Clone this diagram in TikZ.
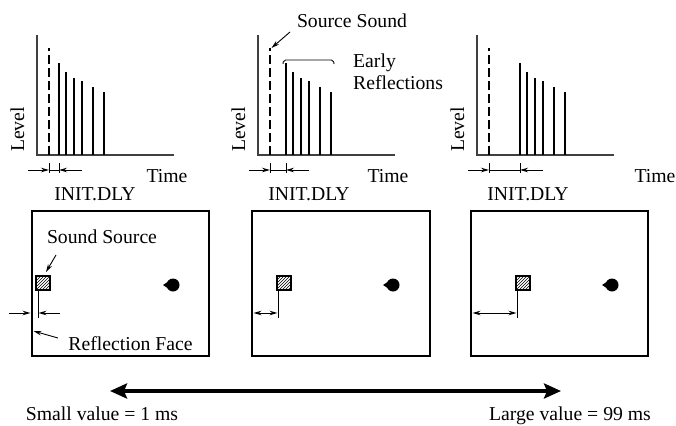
\documentclass[tikz,border=0pt]{standalone}
\usepackage{fontspec}
\setmainfont{Liberation Serif}
\usetikzlibrary{arrows.meta,patterns}
\tikzset{
  lbl/.style={font=\fontsize{19.7}{23}\selectfont, inner sep=0pt, anchor=base},
  axisline/.style={line width=1.1pt, draw=black!75},
  barline/.style={line width=1.7pt},
  dashbar/.style={line width=1.7pt, dash pattern=on 9pt off 4pt},
  dimline/.style={line width=0.9pt},
  dimarrow/.style={line width=0.9pt, -{Stealth[length=8pt,width=4.5pt]}},
  dimboth/.style={line width=0.9pt, {Stealth[length=8pt,width=4.5pt]}-{Stealth[length=8pt,width=4.5pt]}},
  callout/.style={line width=0.9pt, -{Stealth[length=8pt,width=4.5pt]}},
  room/.style={line width=2.3pt},
  srcbox/.style={line width=1.1pt, pattern=north east lines},
  bigarrow/.style={line width=4pt, {Stealth[length=17pt,width=15pt,inset=3pt]}-{Stealth[length=17pt,width=15pt,inset=3pt]}}
}
\begin{document}
\begin{tikzpicture}[x=1pt,y=-1pt]
\useasboundingbox (0,0) rectangle (676,425);

% ---------- level/time graphs ----------
\foreach \i/\ax/\off/\tx/\dx in {1/37/22/130/58, 2/258/28/130/51, 3/477/43/178/51}{
  \draw[axisline] (\ax,35) -- (\ax,155) -- (\ax+137,155);
  \draw[dashbar] (\ax+12,155) -- (\ax+12,48);
  \foreach \r/\t in {0/63, 7/72, 15/78, 23/81, 34/87, 45/92}{
    \draw[barline] (\ax+\off+\r,155) -- (\ax+\off+\r,\t);
  }
  \node[lbl, rotate=90] (level\i) at (\ax-13,129.5) {Level};
  \node[lbl] (time\i) at (\ax+\tx,182) {Time};
  \node[lbl] (init\i) at (\ax+\dx,200) {INIT.DLY};
  % dimension
  \coordinate (ta\i) at (\ax+12,170);
  \coordinate (tb\i) at (\ax+\off,170);
  \coordinate (la\i) at (\ax-9,170);
  \coordinate (lb\i) at (\ax+\off+23,170);
  \draw[dimline] (\ax+12,163) -- (\ax+12,173);
  \draw[dimline] (\ax+\off,163) -- (\ax+\off,173);
  \draw[dimline] (ta\i) -- (tb\i);
  \draw[dimarrow] (la\i) -- (ta\i);
  \draw[dimarrow] (lb\i) -- (tb\i);
}

% source sound callout
\node[lbl] (srcsound) at (352,28) {Source Sound};
\coordinate (dashtop) at (271.5,48);
\draw[callout] (290,32) -- (dashtop);
% early reflections bracket
\draw[line width=0.9pt, rounded corners=2pt] (283,64) -- (283.5,60) -- (333.5,60) -- (334,64);
\node[lbl, anchor=base west] (early) at (353,68) {Early};
\node[lbl, anchor=base west] (refl) at (353,90) {Reflections};

% ---------- rooms ----------
\draw[room] (32,211) rectangle (209,356);
\draw[room] (252,211) rectangle (430,356);
\draw[room] (471,211) rectangle (648,356);

% sound sources
\draw[srcbox] (36,276) rectangle (50,290);
\draw[srcbox] (277,276) rectangle (291,290);
\draw[srcbox] (516,276) rectangle (530,290);

\draw[dimline] (38,290) -- (38,318);
\draw[dimline] (278,290) -- (278,318);
\draw[dimline] (517,290) -- (517,318);

% dimensions in rooms
\draw[dimarrow] (9,313) -- (30.5,313);
\draw[dimarrow] (60,313) -- (38.5,313);
\draw[dimboth] (253.5,313) -- (277.5,313);
\draw[dimboth] (472.5,313) -- (516.5,313);

% listeners
\foreach \cx in {173,393,612}{
  \fill (\cx,285) circle (6.5);
  \fill (\cx-10,285) -- (\cx-4,281) -- (\cx-4,289) -- cycle;
}

% labels in room 1
\node[lbl] (soundsrc) at (102,243) {Sound Source};
\draw[callout] (56,255) -- (46,272);
\node[lbl] (reflface) at (130.5,350) {Reflection Face};
\draw[callout] (58,338) -- (33.5,331);

% ---------- bottom scale ----------
\coordinate (scl) at (110,391);
\coordinate (scr) at (561,391);
\draw[bigarrow] (scl) -- (scr);
\node[lbl] (small) at (102,420) {Small value = 1 ms};
\node[lbl] (large) at (570,420) {Large value = 99 ms};
\end{tikzpicture}
\end{document}
